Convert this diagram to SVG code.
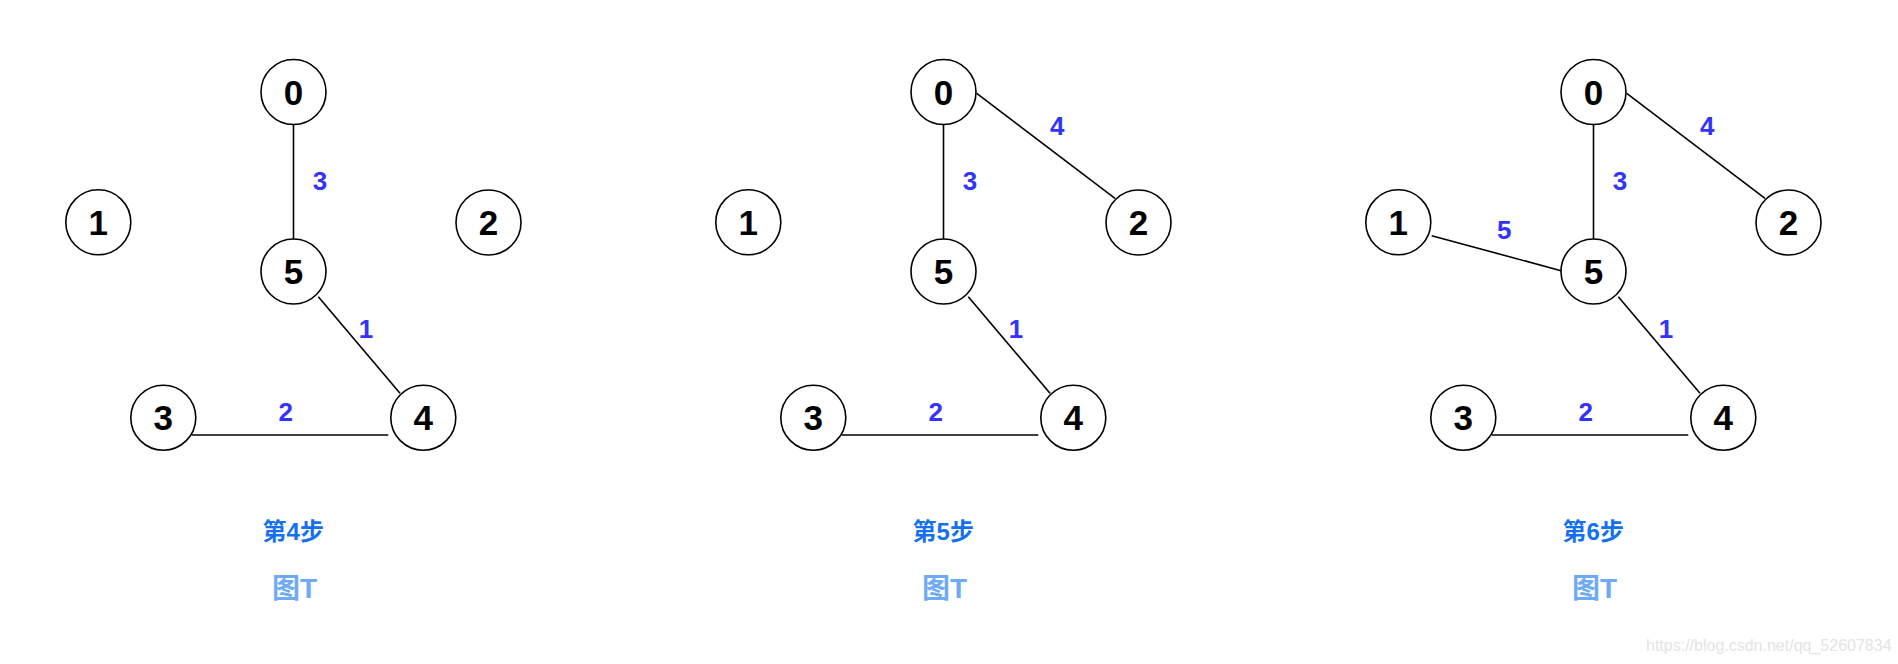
<svg xmlns="http://www.w3.org/2000/svg" width="1898" height="664" viewBox="0 0 1898 664">
<defs>
<style>
.bg{fill:#ffffff}
.node circle{fill:#ffffff;stroke:#000000;stroke-width:1.6}
.node text{font-family:"Liberation Sans",Arial,sans-serif;font-weight:bold;font-size:35px;fill:#000000;text-anchor:middle}
.edge{stroke:#000000;stroke-width:1.6;fill:none}
.w{font-family:"Liberation Sans",Arial,sans-serif;font-weight:bold;font-size:26px;fill:#3333ff;text-anchor:middle}
.step{font-family:"Liberation Sans","Noto Sans CJK SC",sans-serif;font-weight:bold;font-size:24px;fill:#1570ef;text-anchor:middle}
.fig{font-family:"Liberation Sans","Noto Sans CJK SC",sans-serif;font-weight:bold;font-size:28px;fill:#6eaaf5;text-anchor:middle}
.wm{font-family:"Liberation Sans",Arial,sans-serif;font-size:16px;fill:#e4e4e4}
</style>
</defs>
<rect class="bg" x="0" y="0" width="1898" height="664"/>

<!-- Panel 1 -->
<g id="panel1">
  <g id="p1-connectors">
    <line class="edge" x1="293.5" y1="124.5" x2="293.5" y2="239"/>
    <text class="w" x="320" y="190">3</text>
    <line class="edge" x1="318.3" y1="296.7" x2="400" y2="393.3"/>
    <text class="w" x="366" y="337.5">1</text>
    <line class="edge" x1="191.7" y1="435" x2="388.3" y2="435"/>
    <text class="w" x="285.7" y="420.5">2</text>
  </g>
  <g id="p1-n0" class="node"><circle cx="293.5" cy="92" r="32.5"/><text x="293.5" y="104.5">0</text></g>
  <g id="p1-n1" class="node"><circle cx="98.3" cy="222.3" r="32.5"/><text x="98.3" y="234.8">1</text></g>
  <g id="p1-n2" class="node"><circle cx="488.5" cy="222.5" r="32.5"/><text x="488.5" y="235">2</text></g>
  <g id="p1-n3" class="node"><circle cx="163.3" cy="417.7" r="32.5"/><text x="163.3" y="430.2">3</text></g>
  <g id="p1-n4" class="node"><circle cx="423.3" cy="417.7" r="32.5"/><text x="423.3" y="430.2">4</text></g>
  <g id="p1-n5" class="node"><circle cx="293.5" cy="271.5" r="32.5"/><text x="293.5" y="284">5</text></g>
  <text class="step" x="293.3" y="539.5">第4步</text>
  <text class="fig" x="294.5" y="598">图T</text>
</g>

<!-- Panel 2 -->
<g id="panel2" transform="translate(650,0)">
  <g id="p2-connectors">
    <line class="edge" x1="293.5" y1="124.5" x2="293.5" y2="239"/>
    <text class="w" x="320" y="190">3</text>
    <line class="edge" x1="318.3" y1="296.7" x2="400" y2="393.3"/>
    <text class="w" x="366" y="337.5">1</text>
    <line class="edge" x1="191.7" y1="435" x2="388.3" y2="435"/>
    <text class="w" x="285.7" y="420.5">2</text>
    <line class="edge" x1="326.7" y1="93.3" x2="465" y2="198.3"/>
    <text class="w" x="407.3" y="135">4</text>
  </g>
  <g id="p2-n0" class="node"><circle cx="293.5" cy="92" r="32.5"/><text x="293.5" y="104.5">0</text></g>
  <g id="p2-n1" class="node"><circle cx="98.3" cy="222.3" r="32.5"/><text x="98.3" y="234.8">1</text></g>
  <g id="p2-n2" class="node"><circle cx="488.5" cy="222.5" r="32.5"/><text x="488.5" y="235">2</text></g>
  <g id="p2-n3" class="node"><circle cx="163.3" cy="417.7" r="32.5"/><text x="163.3" y="430.2">3</text></g>
  <g id="p2-n4" class="node"><circle cx="423.3" cy="417.7" r="32.5"/><text x="423.3" y="430.2">4</text></g>
  <g id="p2-n5" class="node"><circle cx="293.5" cy="271.5" r="32.5"/><text x="293.5" y="284">5</text></g>
  <text class="step" x="293.3" y="539.5">第5步</text>
  <text class="fig" x="294.5" y="598">图T</text>
</g>

<!-- Panel 3 -->
<g id="panel3" transform="translate(1300,0)">
  <g id="p3-connectors">
    <line class="edge" x1="293.5" y1="124.5" x2="293.5" y2="239"/>
    <text class="w" x="320" y="190">3</text>
    <line class="edge" x1="318.3" y1="296.7" x2="400" y2="393.3"/>
    <text class="w" x="366" y="337.5">1</text>
    <line class="edge" x1="191.7" y1="435" x2="388.3" y2="435"/>
    <text class="w" x="285.7" y="420.5">2</text>
    <line class="edge" x1="326.7" y1="93.3" x2="465" y2="198.3"/>
    <text class="w" x="407.3" y="135">4</text>
    <line class="edge" x1="131.7" y1="235.7" x2="261" y2="270.7"/>
    <text class="w" x="204.3" y="239">5</text>
  </g>
  <g id="p3-n0" class="node"><circle cx="293.5" cy="92" r="32.5"/><text x="293.5" y="104.5">0</text></g>
  <g id="p3-n1" class="node"><circle cx="98.3" cy="222.3" r="32.5"/><text x="98.3" y="234.8">1</text></g>
  <g id="p3-n2" class="node"><circle cx="488.5" cy="222.5" r="32.5"/><text x="488.5" y="235">2</text></g>
  <g id="p3-n3" class="node"><circle cx="163.3" cy="417.7" r="32.5"/><text x="163.3" y="430.2">3</text></g>
  <g id="p3-n4" class="node"><circle cx="423.3" cy="417.7" r="32.5"/><text x="423.3" y="430.2">4</text></g>
  <g id="p3-n5" class="node"><circle cx="293.5" cy="271.5" r="32.5"/><text x="293.5" y="284">5</text></g>
  <text class="step" x="293.3" y="539.5">第6步</text>
  <text class="fig" x="294.5" y="598">图T</text>
</g>

<text class="wm" x="1646" y="650.5">https://blog.csdn.net/qq_52607834</text>
</svg>
